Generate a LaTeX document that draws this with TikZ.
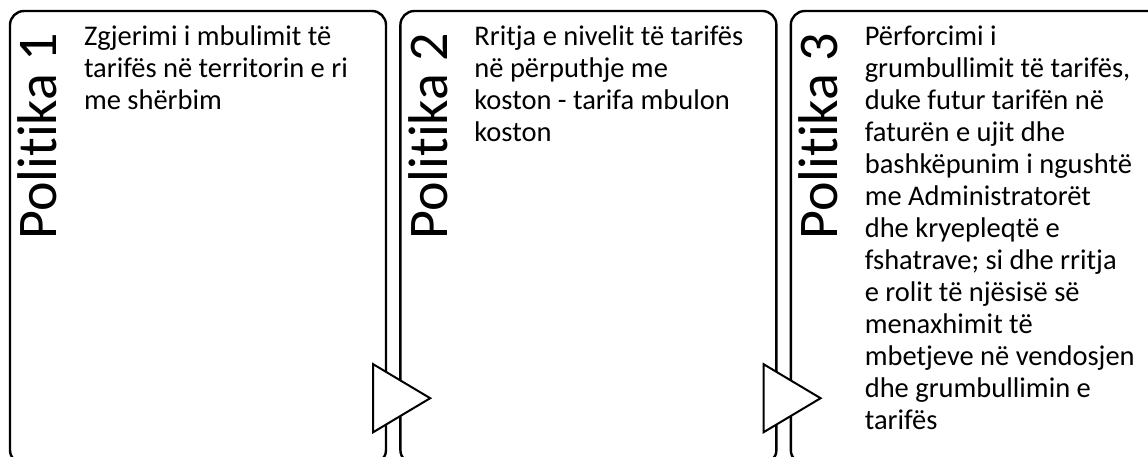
\documentclass[tikz,border=0pt]{standalone}
\usepackage{fontspec}
\setmainfont{Carlito}[Ligatures=NoCommon]
\usetikzlibrary{positioning,calc}
\tikzset{
  policybox/.style={draw, line width=2.4pt, rounded corners=14pt, inner sep=0pt,
    minimum width=376pt, minimum height=453pt},
  policylabel/.style={rotate=90, anchor=base west, inner sep=0pt,
    font=\fontsize{56}{66}\selectfont},
  policytext/.style={anchor=north west, align=left, inner sep=0pt,
    font=\fontsize{28.5}{32}\selectfont},
  policyarrow/.style={draw, fill=white, line width=2pt, line join=miter}
}

\begin{document}
\begin{tikzpicture}[x=1pt, y=-1pt, node distance=12pt]
    \clip (0,0) rectangle (1148,456);
    \useasboundingbox (0,0) rectangle (1148,456);
    \node[policybox] (box1) at (198,237.5) {};
    \node[policybox, right=of box1] (box2) {};
    \node[policybox, right=of box2] (box3) {};
    % labels on the left side
    \node[policylabel] (lbl1) at ($(box1.north west)+(48,230)$) {Politika 1};
    \node[policylabel] (lbl2) at ($(box2.north west)+(48,230)$) {Politika 2};
    \node[policylabel] (lbl3) at ($(box3.north west)+(48,230)$) {Politika 3};
    % texts
    \node[policytext] (txt1) at ($(box1.north west)+(75,16)$) {Zgjerimi i mbulimit të\\tarifës në territorin e ri\\me shërbim};
    \node[policytext] (txt2) at ($(box2.north west)+(75,16)$) {Rritja e nivelit të tarifës\\në përputhje me\\koston - tarifa mbulon\\koston};
    \node[policytext] (txt3) at ($(box3.north west)+(75,16)$) {Përforcimi i\\grumbullimit të tarifës,\\duke futur tarifën në\\faturën e ujit dhe\\bashkëpunim i ngushtë\\me Administratorët\\dhe kryepleqtë e\\fshatrave; si dhe rritja\\e rolit të njësisë së\\menaxhimit të\\mbetjeve në vendosjen\\dhe grumbullimin e\\tarifës};
    % arrows between the boxes
    \draw[policyarrow] ($(box1.south east)+(-14,-101)$) -- ++(57,34) -- ++(-57,34) -- cycle;
    \draw[policyarrow] ($(box2.south east)+(-14,-101)$) -- ++(57,34) -- ++(-57,34) -- cycle;
\end{tikzpicture}
\end{document}
